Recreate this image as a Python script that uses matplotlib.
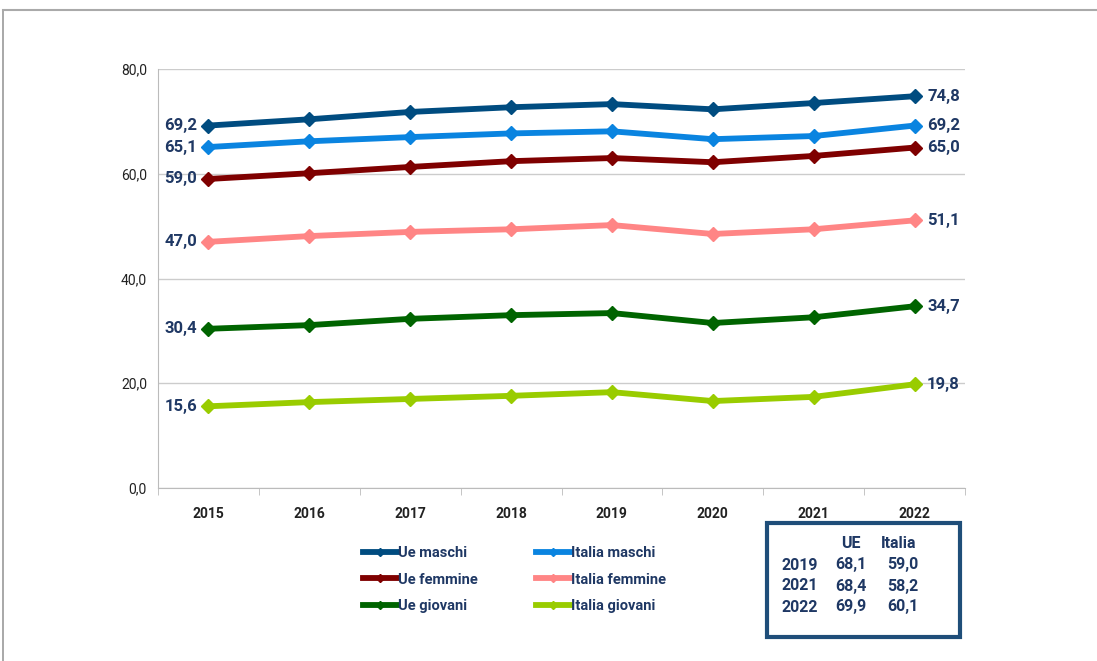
import matplotlib
matplotlib.use("Agg")
import matplotlib.pyplot as plt
from matplotlib.patches import Rectangle
from matplotlib.lines import Line2D

years = ["2015", "2016", "2017", "2018", "2019", "2020", "2021", "2022"]
ue_maschi = [69.2, 70.4, 71.8, 72.7, 73.3, 72.3, 73.5, 74.8]
italia_maschi = [65.1, 66.2, 67.0, 67.7, 68.1, 66.6, 67.2, 69.2]
ue_femmine = [59.0, 60.1, 61.3, 62.4, 63.0, 62.2, 63.4, 65.0]
italia_femmine = [47.0, 48.1, 48.9, 49.4, 50.2, 48.5, 49.4, 51.1]
ue_giovani = [30.4, 31.1, 32.3, 33.0, 33.4, 31.5, 32.6, 34.7]
italia_giovani = [15.6, 16.4, 17.0, 17.6, 18.3, 16.6, 17.4, 19.8]

series = [
    ("Ue maschi", ue_maschi, "#004C80"),
    ("Italia maschi", italia_maschi, "#0A84E0"),
    ("Ue femmine", ue_femmine, "#7F0000"),
    ("Italia femmine", italia_femmine, "#FF8585"),
    ("Ue giovani", ue_giovani, "#006400"),
    ("Italia giovani", italia_giovani, "#99CC00"),
]

table_header = ["", "UE", "Italia"]
table_years = ["2019", "2021", "2022"]
table_ue = ["68,1", "68,4", "69,9"]
table_italia = ["59,0", "58,2", "60,1"]

plt.rcParams['font.family'] = ['Roboto', 'DejaVu Sans']
navy = "#1F3864"

fig = plt.figure(figsize=(10.97, 6.61), dpi=100)
ax = fig.add_axes([158/1097, 1-488/661, (965-158)/1097, (488-69)/661])

x = list(range(len(years)))
handles = {}
for name, vals, col in series:
    ax.plot(x, vals, color=col, lw=4.2, marker="D", ms=7.5, mec=col, mfc=col, solid_joinstyle="round")
    handles[name] = Line2D([0], [0], color=col, lw=4.2, marker="D", ms=4, mec=col, mfc=col)
    ax.annotate(f"{vals[0]:.1f}".replace(".", ","), (x[0], vals[0]), xytext=(-8, 0),
                textcoords="offset points", ha="right", va="center",
                fontsize=12, fontweight="bold", color=navy)
    ax.annotate(f"{vals[-1]:.1f}".replace(".", ","), (x[-1], vals[-1]), xytext=(9, 0),
                textcoords="offset points", ha="left", va="center",
                fontsize=12, fontweight="bold", color=navy)

ax.set_xlim(-0.5, len(years) - 0.5)
ax.set_ylim(0, 80)
ax.set_yticks([0, 20, 40, 60, 80])
ax.set_yticklabels([f"{v:.1f}".replace(".", ",") for v in [0, 20, 40, 60, 80]],
                   fontsize=10, color="#222222")
ax.set_xticks(x)
ax.set_xticklabels(years, fontsize=10, fontweight="bold", color="#222222")
ax.set_xticks([i - 0.5 for i in range(len(years) + 1)], minor=True)
ax.tick_params(axis="x", which="major", length=0, pad=14)
ax.tick_params(axis="x", which="minor", length=5, color="#BBBBBB", direction="out")
ax.tick_params(axis="y", length=0, pad=8)
ax.grid(axis="y", color="#CCCCCC", lw=1)
ax.set_axisbelow(True)
for s in ["top", "right"]:
    ax.spines[s].set_visible(False)
for s in ["left", "bottom"]:
    ax.spines[s].set_color("#BBBBBB")

order = ["Ue maschi", "Ue femmine", "Ue giovani", "Italia maschi", "Italia femmine", "Italia giovani"]
leg = fig.legend([handles[n] for n in order], order, ncol=2, loc="upper left",
                 bbox_to_anchor=(350/1097, 1-533/661), frameon=False,
                 handlelength=2.3, handletextpad=0.1, columnspacing=4.0,
                 labelspacing=0.85, prop={"size": 10.5, "weight": "bold"})
for t in leg.get_texts():
    t.set_color(navy)

# table box
fig.patches.append(Rectangle((767/1097, 1-637/661), 193/1097, 114/661, transform=fig.transFigure,
                             fill=False, ec="#1F4E79", lw=3))
colx = [800, 851, 899]
rowy = [544, 565, 586, 607]
for j, h in enumerate(table_header):
    fig.text(colx[j]/1097, 1-rowy[0]/661, h, ha="center", va="center", fontsize=11.5,
             fontweight="bold", color=navy)
for i in range(3):
    for j, v in enumerate([table_years[i], table_ue[i], table_italia[i]]):
        fig.text((colx[j] + (4 if j == 2 else 0))/1097, 1-rowy[i+1]/661, v, ha="center", va="center",
                 fontsize=11.5, fontweight="bold", color=navy)

# outer frame
fig.add_artist(Line2D([3/1097, 3/1097], [0, 1-10/661], transform=fig.transFigure, color="#999999", lw=1.2))
fig.add_artist(Line2D([3/1097, 1], [1-10/661, 1-10/661], transform=fig.transFigure, color="#AAAAAA", lw=1.5))

fig.savefig("out.png", dpi=100)
